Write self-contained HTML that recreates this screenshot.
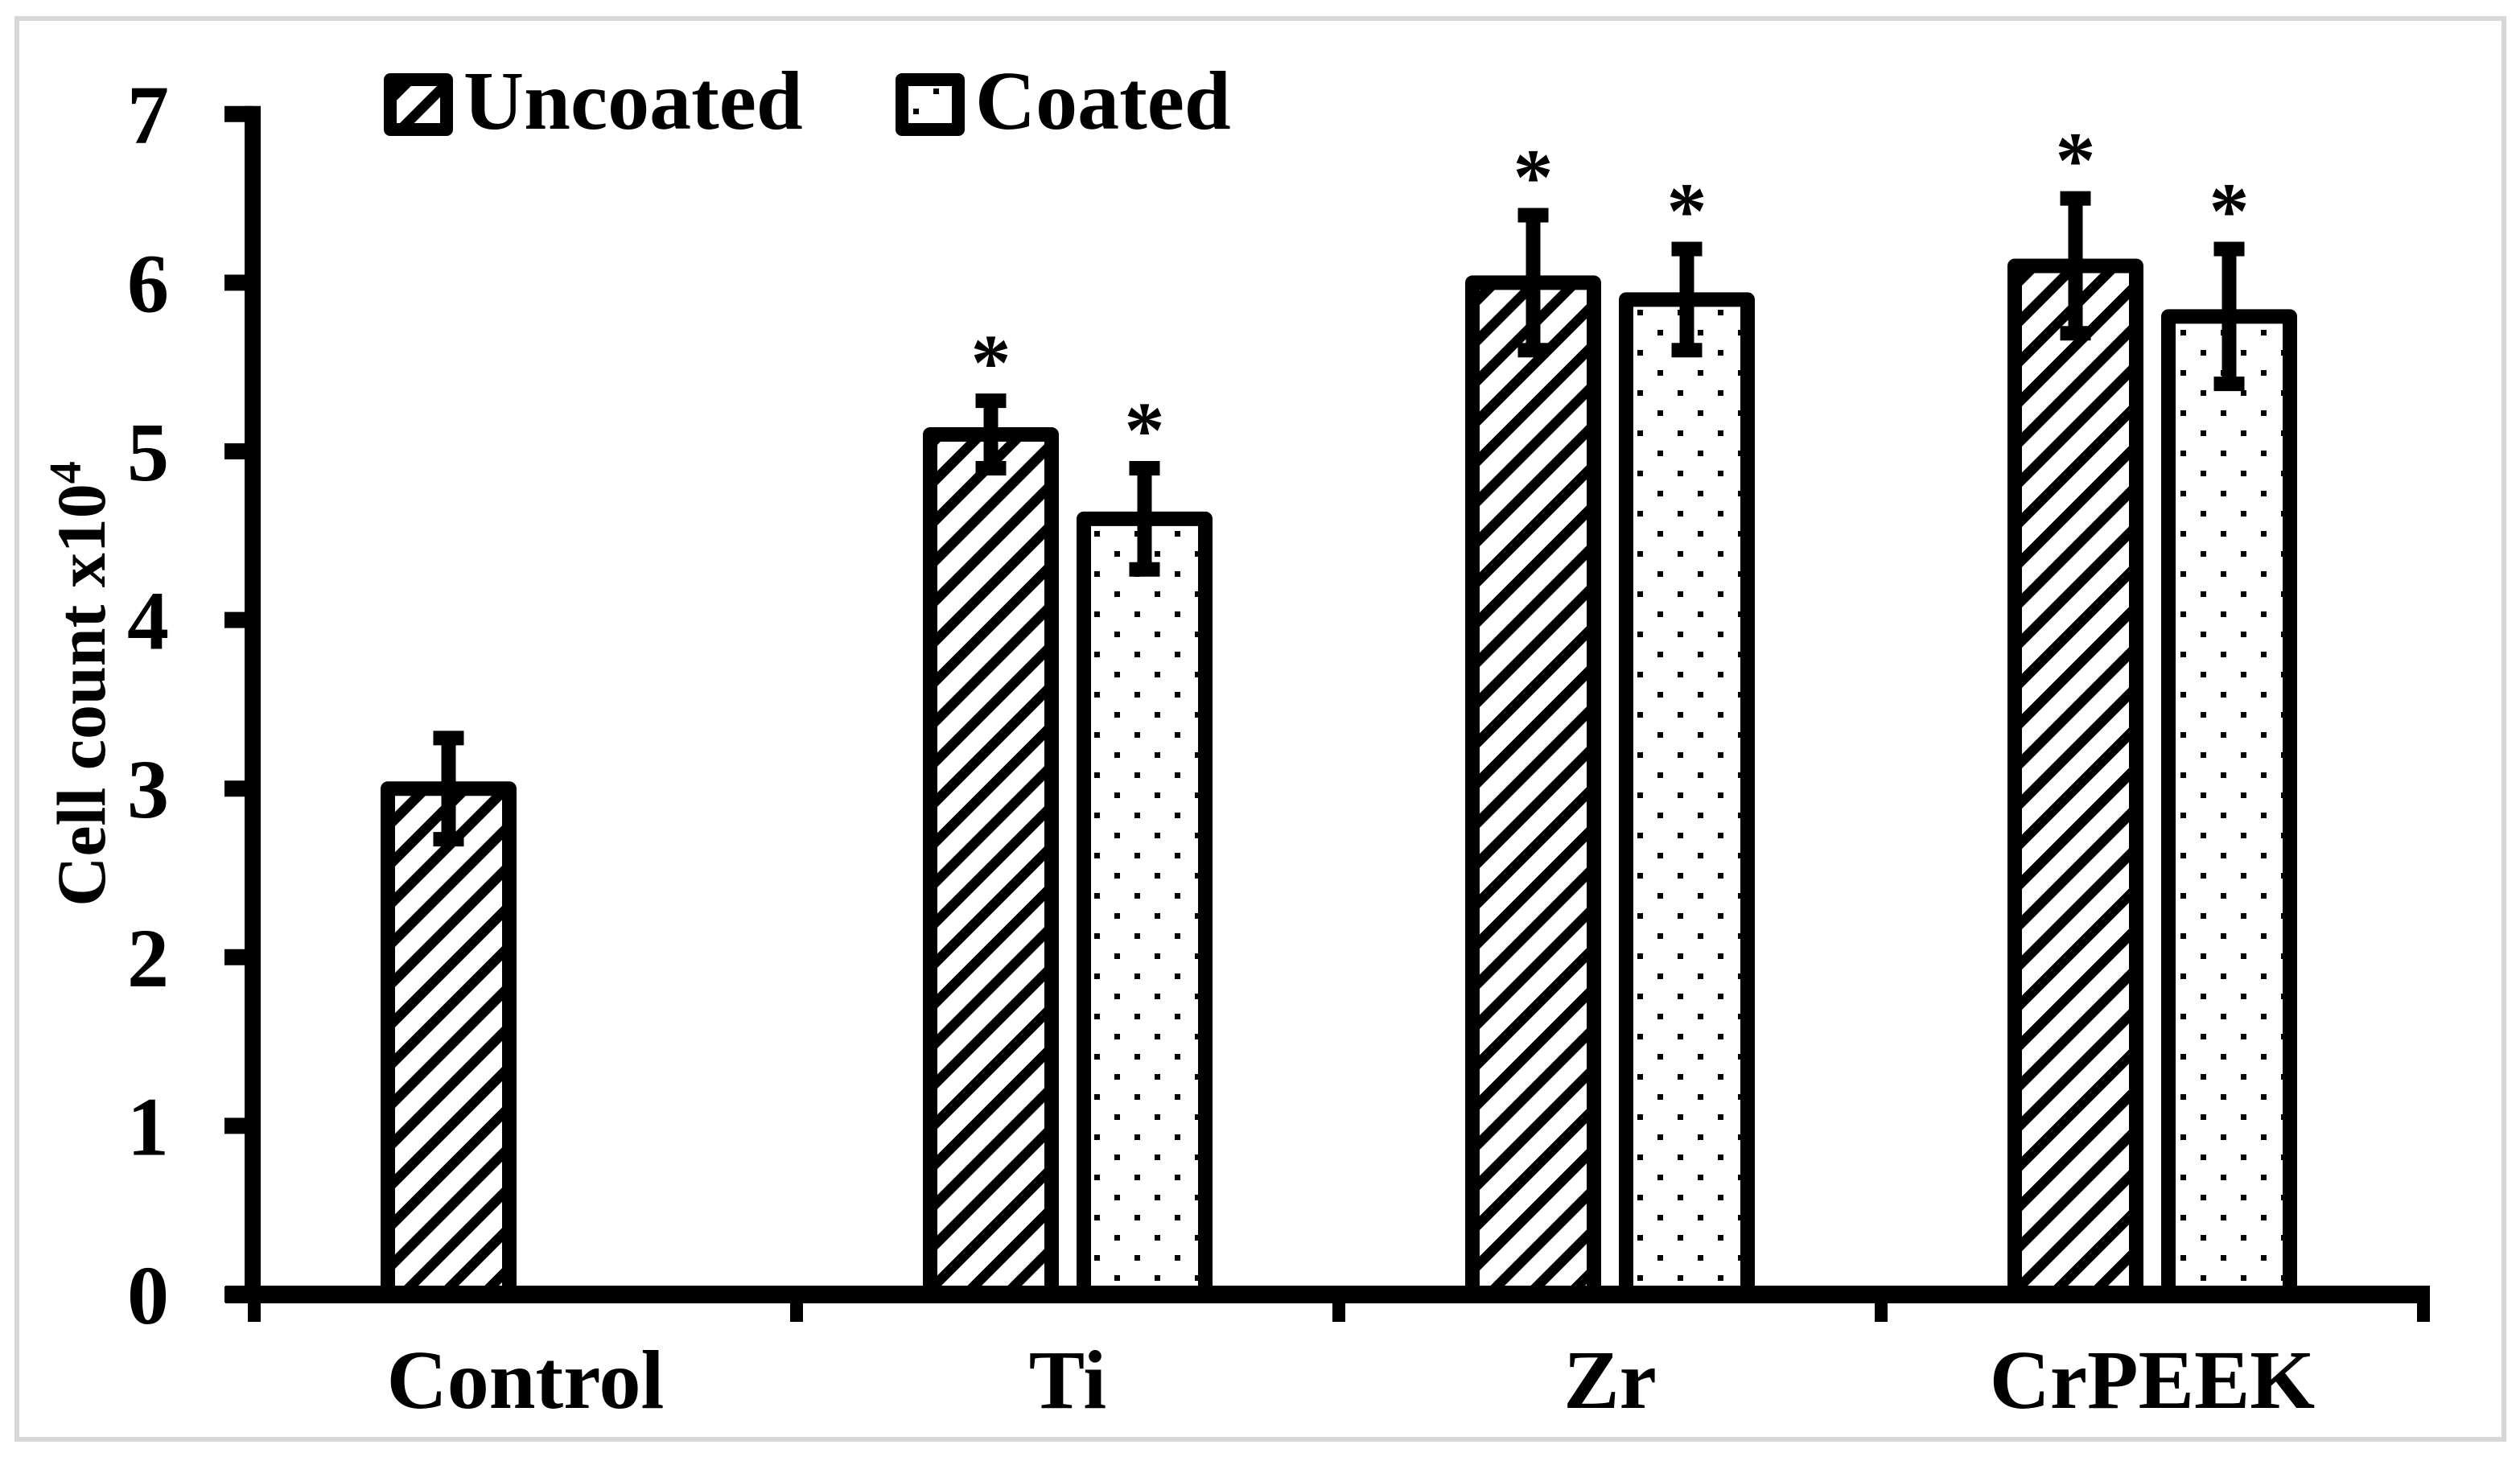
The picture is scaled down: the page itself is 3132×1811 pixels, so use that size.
<!DOCTYPE html>
<html><head><meta charset="utf-8"><style>
html,body{margin:0;padding:0;background:#fff;}
svg{display:block;}
text{font-family:"Liberation Serif",serif;font-weight:bold;fill:#000;}
</style></head><body>
<svg id="chart" width="3132" height="1811" viewBox="0 0 3132 1811" xmlns="http://www.w3.org/2000/svg">
<defs>
<pattern id="hatch" patternUnits="userSpaceOnUse" width="35.36" height="35.36" patternTransform="rotate(45)">
<rect width="35.36" height="35.36" fill="#fff"/><rect x="0" y="0" width="12.5" height="35.36" fill="#000"/>
</pattern>
<pattern id="dots" patternUnits="userSpaceOnUse" width="50" height="50">
<rect width="50" height="50" fill="#fff"/>
<rect x="10" y="10" width="7" height="7" fill="#000"/>
<rect x="35" y="35" width="7" height="7" fill="#000"/>
</pattern>
</defs>
<rect x="21" y="23" width="3091" height="1766" fill="#fff" stroke="#d8d8d8" stroke-width="6"/>
<g id="plot"></g>
</svg>
<script>
const categories = ["Control", "Ti", "Zr", "CrPEEK"];
const uncoatedValues = [3.0, 5.1, 6.0, 6.1];
const uncoatedErrors = [0.3, 0.2, 0.4, 0.4];
const coatedValues = [null, 4.6, 5.9, 5.8];
const coatedErrors = [null, 0.3, 0.3, 0.4];
const uncoatedSig = [false, true, true, true];
const coatedSig = [false, true, true, true];
const yTicks = [0, 1, 2, 3, 4, 5, 6, 7];

const NS = "http://www.w3.org/2000/svg";
const g = document.getElementById("plot");
const x0 = 316, catW = 674, y0 = 1609, unit = 209.6;
function yScale(v){ return y0 - v * unit; }
function catX(i){ return x0 + catW * i; }
function mk(tag, attrs, parent){
  const e = document.createElementNS(NS, tag);
  for (const k in attrs) e.setAttribute(k, attrs[k]);
  (parent || g).appendChild(e);
  return e;
}
const barW = 151, gap = 191;

function drawBar(i, v, err, sig, fill, off, name){
  if (v === null) return;
  const cx = catX(i) + catW/2 + off;
  const yt = yScale(v);
  const r = mk("rect", {x: cx - barW/2, y: yt, width: barW, height: y0 - yt, fill: fill, stroke: "#000", "stroke-width": 18, "stroke-linejoin": "round"});
  
  
  const eg = mk("g", {});
  
  
  const yh = yScale(v + err), yl = yScale(v - err);
  mk("line", {x1: cx, x2: cx, y1: yh, y2: yl, stroke: "#000", "stroke-width": 18}, eg);
  mk("line", {x1: cx - 19, x2: cx + 19, y1: yh, y2: yh, stroke: "#000", "stroke-width": 18}, eg);
  mk("line", {x1: cx - 19, x2: cx + 19, y1: yl, y2: yl, stroke: "#000", "stroke-width": 18}, eg);
  if (sig){
    const t = mk("text", {x: cx, y: yh - 14, "text-anchor": "middle", "font-size": 100});
    t.textContent = "*";
    
    
  }
}
categories.forEach((c, i) => {
  drawBar(i, uncoatedValues[i], uncoatedErrors[i], uncoatedSig[i], "url(#hatch)", -gap/2, "uncoated");
  drawBar(i, coatedValues[i], coatedErrors[i], coatedSig[i], "url(#dots)", gap/2, "coated");
  const t = mk("text", {x: catX(i) + catW/2, y: 1750, "text-anchor": "middle", "font-size": 104});
  t.textContent = c;
  
  
});
const ya = mk("line", {x1: 314, x2: 314, y1: yScale(7) - 10, y2: y0 + 11, stroke: "#000", "stroke-width": 20});


const xa = mk("line", {x1: 280, x2: 3020, y1: y0, y2: y0, stroke: "#000", "stroke-width": 22});


yTicks.forEach(v => {
  const tk = mk("line", {x1: 279, x2: 314, y1: yScale(v), y2: yScale(v), stroke: "#000", "stroke-width": 20});
  
  
  const t = mk("text", {x: 184, y: yScale(v) + 36, "text-anchor": "middle", "font-size": 104});
  t.textContent = String(v);
  
  
});
for (let i = 0; i <= categories.length; i++){
  const tk = mk("line", {x1: catX(i), x2: catX(i), y1: y0, y2: 1643, stroke: "#000", "stroke-width": 16});
  
  
}
const yt = mk("text", {x: 0, y: 0, "text-anchor": "middle", "font-size": 86, transform: "translate(130,850) rotate(-90)"});
yt.innerHTML = 'Cell count x10<tspan font-size="56" dy="-30">4</tspan>';


const lg = mk("g", {});


const l1 = mk("rect", {x: 485, y: 99, width: 70, height: 62, fill: "url(#hatch)", stroke: "#000", "stroke-width": 16, "stroke-linejoin": "round"}, lg);


const t1 = mk("text", {x: 576, y: 160, "font-size": 104}, lg);
t1.textContent = "Uncoated";


const l2 = mk("rect", {x: 1121, y: 99, width: 70, height: 62, fill: "url(#dots)", stroke: "#000", "stroke-width": 16, "stroke-linejoin": "round"}, lg);


const t2 = mk("text", {x: 1212, y: 160, "font-size": 104}, lg);
t2.textContent = "Coated";


</script>
</body></html>
